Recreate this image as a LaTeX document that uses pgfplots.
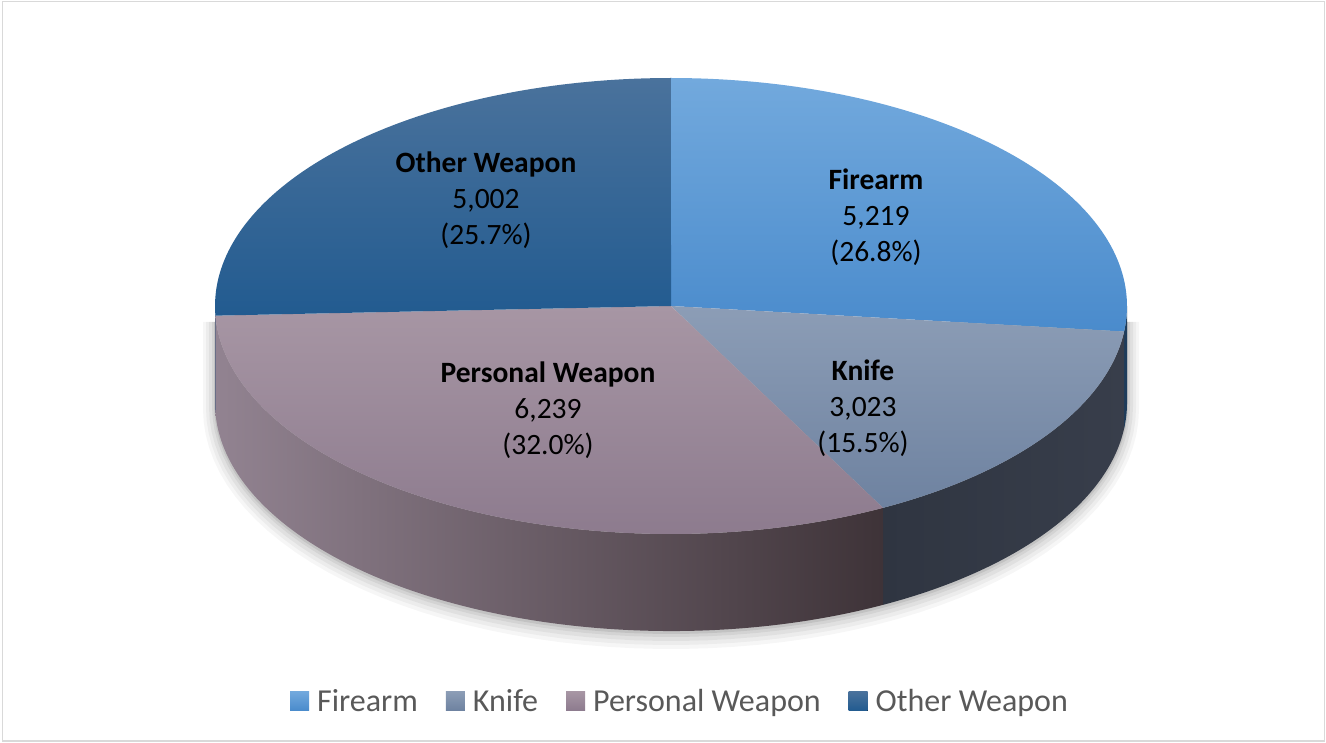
\documentclass[border=0pt]{standalone}
\usepackage{fontspec}
\setmainfont{Carlito}
\usepackage{pgfplots}
\pgfplotsset{compat=1.18}

\definecolor{fireTop}{HTML}{72A9DD}
\definecolor{fireBot}{HTML}{4A8BCC}
\definecolor{fireSide}{HTML}{1E3C5B}
\definecolor{knifeTop}{HTML}{8C9DB6}
\definecolor{knifeBot}{HTML}{6E82A0}
\definecolor{knifeSideL}{HTML}{2F3541}
\definecolor{knifeSideR}{HTML}{383E4B}
\definecolor{persTop}{HTML}{A796A4}
\definecolor{persBot}{HTML}{8D7B8E}
\definecolor{persSideL}{HTML}{928391}
\definecolor{persSideR}{HTML}{3E3338}
\definecolor{otherTop}{HTML}{4A729C}
\definecolor{otherBot}{HTML}{225B90}
\definecolor{otherSide}{HTML}{1D4A75}
\definecolor{legtext}{HTML}{595959}
\definecolor{frame}{HTML}{D9D9D9}

\begin{document}
\begin{tikzpicture}
% counts (in thousands, to keep pgfmath in range)
\def\vF{5.219}\def\vK{3.023}\def\vP{6.239}\def\vO{5.002}
\pgfmathsetmacro\tot{\vF+\vK+\vP+\vO}
\pgfmathsetmacro\tA{90}
\pgfmathsetmacro\tB{\tA-360*(\vF/\tot)}
\pgfmathsetmacro\tC{\tB-360*(\vK/\tot)}
\pgfmathsetmacro\tD{\tC-360*(\vP/\tot)}
\pgfmathsetmacro\tE{\tD-360*(\vO/\tot)}
% lower rim points (depth 97)
\pgfmathsetmacro\xB{671+456*cos(\tB)}\pgfmathsetmacro\yB{436+228*sin(\tB)-97}
\pgfmathsetmacro\xC{671+456*cos(\tC)}\pgfmathsetmacro\yC{436+228*sin(\tC)-97}
\pgfmathsetmacro\xD{671+456*cos(\tD)}\pgfmathsetmacro\yD{436+228*sin(\tD)-97}
\begin{axis}[
    width=1326bp, height=742bp, scale only axis,
    xmin=0, xmax=1326, ymin=0, ymax=742,
    hide axis, clip=false, enlargelimits=false,
    legend image code/.code={\fill[#1] (0bp,-9.5bp) rectangle (19bp,9.5bp); \path (27bp,0bp);},
    legend style={at={(axis cs:679,41)}, anchor=center, draw=none, fill=none,
        legend columns=-1, text=legtext,
        font=\fontsize{32bp}{36bp}\selectfont,
        /tikz/every even column/.append style={column sep=28bp},
        nodes={inner sep=0pt}},
    legend cell align=left,
]
\path (axis cs:0,0) -- (axis cs:1326,742);
\draw[frame, line width=1.5bp] (axis cs:2.5,1) rectangle (axis cs:1324.5,740.5);

% soft shadow
\addplot[forget plot, draw=none, fill=black, fill opacity=0.035, domain=-180:0, samples=60] ({671+468*cos(x)},{333+240*sin(x)}) -- (axis cs:1139,420) -- (axis cs:203,420) -- cycle;
\addplot[forget plot, draw=none, fill=black, fill opacity=0.04, domain=-180:0, samples=60] ({671+465*cos(x)},{334+237*sin(x)}) -- (axis cs:1136,420) -- (axis cs:206,420) -- cycle;
\addplot[forget plot, draw=none, fill=black, fill opacity=0.05, domain=-180:0, samples=60] ({671+462*cos(x)},{335+234*sin(x)}) -- (axis cs:1133,420) -- (axis cs:209,420) -- cycle;
\addplot[forget plot, draw=none, fill=black, fill opacity=0.06, domain=-180:0, samples=60] ({671+459*cos(x)},{336+231*sin(x)}) -- (axis cs:1130,420) -- (axis cs:212,420) -- cycle;
\addplot[forget plot, draw=none, fill=black, fill opacity=0.08, domain=-180:0, samples=60] ({671+457*cos(x)},{337+229*sin(x)}) -- (axis cs:1128,420) -- (axis cs:214,420) -- cycle;

% sides (front part of each slice)
\addplot[forget plot, draw=none, fill=fireSide, domain=\tB:0, samples=10] ({671+456*cos(x)},{436+228*sin(x)}) -- (axis cs:1127,339) arc[start angle=0, end angle=\tB, x radius=456bp, y radius=228bp] -- cycle;
\addplot[forget plot, draw=none, left color=knifeSideL, right color=knifeSideR, domain=\tC:\tB, samples=40] ({671+456*cos(x)},{436+228*sin(x)}) -- (axis cs:\xB,\yB) arc[start angle=\tB, end angle=\tC, x radius=456bp, y radius=228bp] -- cycle;
\addplot[forget plot, draw=none, left color=persSideL, right color=persSideR, domain=\tD:\tC, samples=80] ({671+456*cos(x)},{436+228*sin(x)}) -- (axis cs:\xC,\yC) arc[start angle=\tC, end angle=\tD, x radius=456bp, y radius=228bp] -- cycle;
\addplot[forget plot, draw=none, fill=otherSide, domain=-180:\tD, samples=5] ({671+456*cos(x)},{436+228*sin(x)}) -- (axis cs:\xD,\yD) arc[start angle=\tD, end angle=-180, x radius=456bp, y radius=228bp] -- cycle;

% top faces
\addplot[forget plot, draw=none, top color=fireTop, bottom color=fireBot, domain=\tB:\tA, samples=80] ({671+456*cos(x)},{436+228*sin(x)}) -- (axis cs:671,436) -- cycle;
\addplot[forget plot, draw=none, top color=knifeTop, bottom color=knifeBot, domain=\tC:\tB, samples=60] ({671+456*cos(x)},{436+228*sin(x)}) -- (axis cs:671,436) -- cycle;
\addplot[forget plot, draw=none, top color=persTop, bottom color=persBot, domain=\tD:\tC, samples=100] ({671+456*cos(x)},{436+228*sin(x)}) -- (axis cs:671,436) -- cycle;
\addplot[forget plot, draw=none, top color=otherTop, bottom color=otherBot, domain=\tE:\tD, samples=80] ({671+456*cos(x)},{436+228*sin(x)}) -- (axis cs:671,436) -- cycle;

% data labels
\node[align=center, font=\fontsize{29.5bp}{36bp}\selectfont] at (axis cs:486,542) {\textbf{Other Weapon}\\5,002\\(25.7\%)};
\node[align=center, font=\fontsize{29.5bp}{36bp}\selectfont] at (axis cs:876,525) {\textbf{Firearm}\\5,219\\(26.8\%)};
\node[align=center, font=\fontsize{29.5bp}{36bp}\selectfont] at (axis cs:863,334) {\textbf{Knife}\\3,023\\(15.5\%)};
\node[align=center, font=\fontsize{29.5bp}{36bp}\selectfont] at (axis cs:548,332) {\textbf{Personal Weapon}\\6,239\\(32.0\%)};

% legend
\addlegendimage{draw=none, top color=fireTop, bottom color=fireBot}
\addlegendentry{Firearm}
\addlegendimage{draw=none, top color=knifeTop, bottom color=knifeBot}
\addlegendentry{Knife}
\addlegendimage{draw=none, top color=persTop, bottom color=persBot}
\addlegendentry{Personal Weapon}
\addlegendimage{draw=none, top color=otherTop, bottom color=otherBot}
\addlegendentry{Other Weapon}
\end{axis}
\end{tikzpicture}
\end{document}
